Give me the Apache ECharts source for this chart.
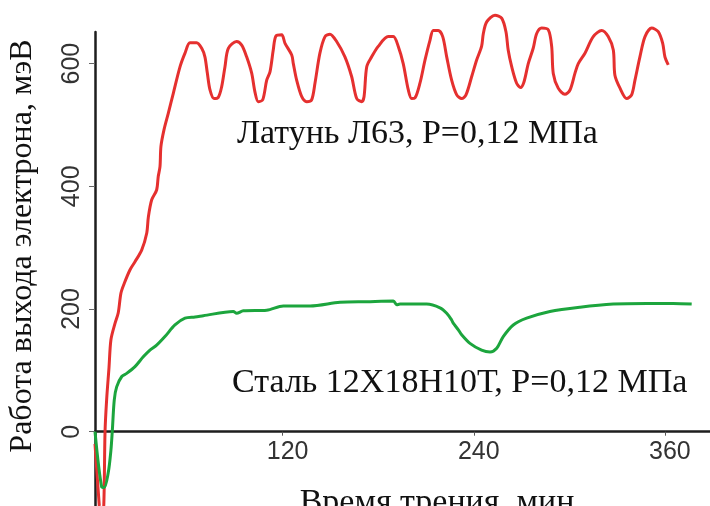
<!DOCTYPE html>
<html>
<head>
<meta charset="utf-8">
<script src="https://cdn.jsdelivr.net/npm/echarts@6/dist/echarts.min.js"></script>
<style>
html,body{margin:0;padding:0;background:#fff;}
#chart{width:710px;height:506px;}
</style>
</head>
<body>
<div id="chart"></div>
<script>
// ---- data (time in min, work function in meV) ----
var brassTime = [2.2,4.9,6.3,7.7,8.5,9.5,11.0,12.2,14.8,16.8,18.5,20.6,24.2,27.3,31.5,34.7,35.7,37.8,40.9,41.9,43.0,43.6,45.5,48.2,51.4,55.6,58.7,61.8,66.0,69.2,71.2,72.7,74.4,76.9,79.6,81.7,83.8,85.9,91.1,94.3,97.4,100.6,102.6,104.7,107.5,110.0,112.1,114.1,115.8,119.4,121.5,125.7,126.7,128.8,132.0,135.1,138.2,140.3,143.4,146.6,149.7,153.9,159.1,163.3,166.5,169.6,171.1,172.8,175.9,180.0,186.3,189.5,192.6,195.7,198.9,201.0,203.1,206.2,209.4,212.5,214.6,217.7,220.5,223.0,226.1,229.3,232.4,235.1,238.7,241.8,244.9,246.0,248.1,253.3,257.5,260.2,261.6,263.8,266.9,269.4,271.5,274.2,277.3,279.5,282.6,286.8,288.9,289.9,293.0,297.2,300.4,303.5,305.6,309.8,315.0,320.3,324.4,327.6,328.6,331.8,336.0,339.1,341.2,344.3,347.5,351.7,355.8,358.6,360.0,362.1];
var brassValue = [-20,-121,-160,-121,0,52,105,150,177,194,226,242,264,277,296,324,350,378,394,416,432,465,492,519,552,595,617,634,634,625,611,585,557,543,545,562,595,625,636,630,611,584,554,538,541,573,587,622,645,647,633,614,600,573,546,538,541,568,617,644,648,636,611,579,543,538,546,595,611,628,644,644,628,600,557,543,544,568,606,638,654,654,644,611,573,549,543,549,579,606,628,649,668,679,674,652,622,595,568,561,570,600,625,649,658,655,628,584,560,550,557,584,600,617,644,654,644,622,581,560,543,549,573,611,644,658,652,633,611,598];

var steelTime = [2.2,6.4,8.0,10.5,12.2,13.1,14.3,15.8,19.0,22.1,27.3,32.5,36.7,40.9,46.1,52.4,58.7,65.0,70.2,89.0,91.1,95.3,110.0,120.4,137.2,156.0,172.8,189.5,191.6,193.7,210.4,218.8,223.0,226.1,227.1,230.3,232.4,237.6,244.9,250.2,254.4,258.5,264.8,273.2,287.8,306.7,327.6,348.5,365.2,376.8];
var steelValue = [0,-90,-91,-67,-30,3,52,73,90,95,106,122,133,141,155,174,185,187,189,196,193,197,198,205,205,211,212,213,207,208,208,202,193,182,177,166,158,144,133,130,136,155,174,185,196,203,208,209,209,208];

var xTicks = [120, 240, 360];
var yTicks = [0, 200, 400, 600];

var brassLabel = 'Латунь Л63, P=0,12 МПа';
var steelLabel = 'Сталь 12Х18Н10Т, P=0,12 МПа';
var xTitle = 'Время трения, мин';
var yTitle = 'Работа выхода электрона, мэВ';

function pairs(xs, ys) { return xs.map(function (x, i) { return [x, ys[i]]; }); }

var chart = echarts.init(document.getElementById('chart'), null, {renderer: 'canvas'});
var serif = '"Liberation Serif", "Times New Roman", serif';
var sans = '"Liberation Sans", Arial, sans-serif';

chart.setOption({
  animation: false,
  backgroundColor: '#ffffff',
  grid: {left: 95, right: 0, top: 32, bottom: -48.4, containLabel: false, outerBoundsMode: 'none'},
  xAxis: {
    type: 'value', min: 2.2, max: 388.3,
    splitLine: {show: false},
    offset: -122.7,
    axisLine: {onZero: false, lineStyle: {color: '#1e1e1e', width: 2.5}},
    axisTick: {show: true, customValues: xTicks, length: 4, lineStyle: {color: '#555', width: 1}},
    axisLabel: {customValues: xTicks, color: '#333', fontFamily: sans, fontSize: 25, margin: 8, padding: [0, 0, 0, 10]}
  },
  yAxis: {
    type: 'value', min: -200, max: 651.5,
    splitLine: {show: false},
    axisLine: {onZero: false, lineStyle: {color: '#1e1e1e', width: 2.5}},
    axisTick: {show: true, customValues: yTicks, length: 6, lineStyle: {color: '#666', width: 1}},
    axisLabel: {customValues: yTicks, rotate: 90, color: '#333', fontFamily: sans, fontSize: 25, margin: 10}
  },
  series: [
    {type: 'line', data: pairs(brassTime, brassValue), showSymbol: false, smooth: 0.3, clip: false,
     lineStyle: {color: '#e5302f', width: 3}},
    {type: 'line', data: pairs(steelTime, steelValue), showSymbol: false, smooth: 0.3, clip: false,
     lineStyle: {color: '#1ca53d', width: 3}}
  ],
  graphic: [
    {type: 'text', left: 237, top: 134 - 17, style: {text: brassLabel, font: '34px ' + serif, fill: '#111'}},
    {type: 'text', left: 232, top: 383 - 17, style: {text: steelLabel, font: '34px ' + serif, fill: '#111'}},
    {type: 'text', x: 437, y: 503, style: {text: xTitle, font: '34px ' + serif, fill: '#111', textAlign: 'center', textVerticalAlign: 'middle'}},
    {type: 'text', x: 23, y: 246, rotation: Math.PI / 2, style: {text: yTitle, font: '32px ' + serif, fill: '#111', textAlign: 'center', textVerticalAlign: 'middle'}}
  ]
});
</script>
</body>
</html>
